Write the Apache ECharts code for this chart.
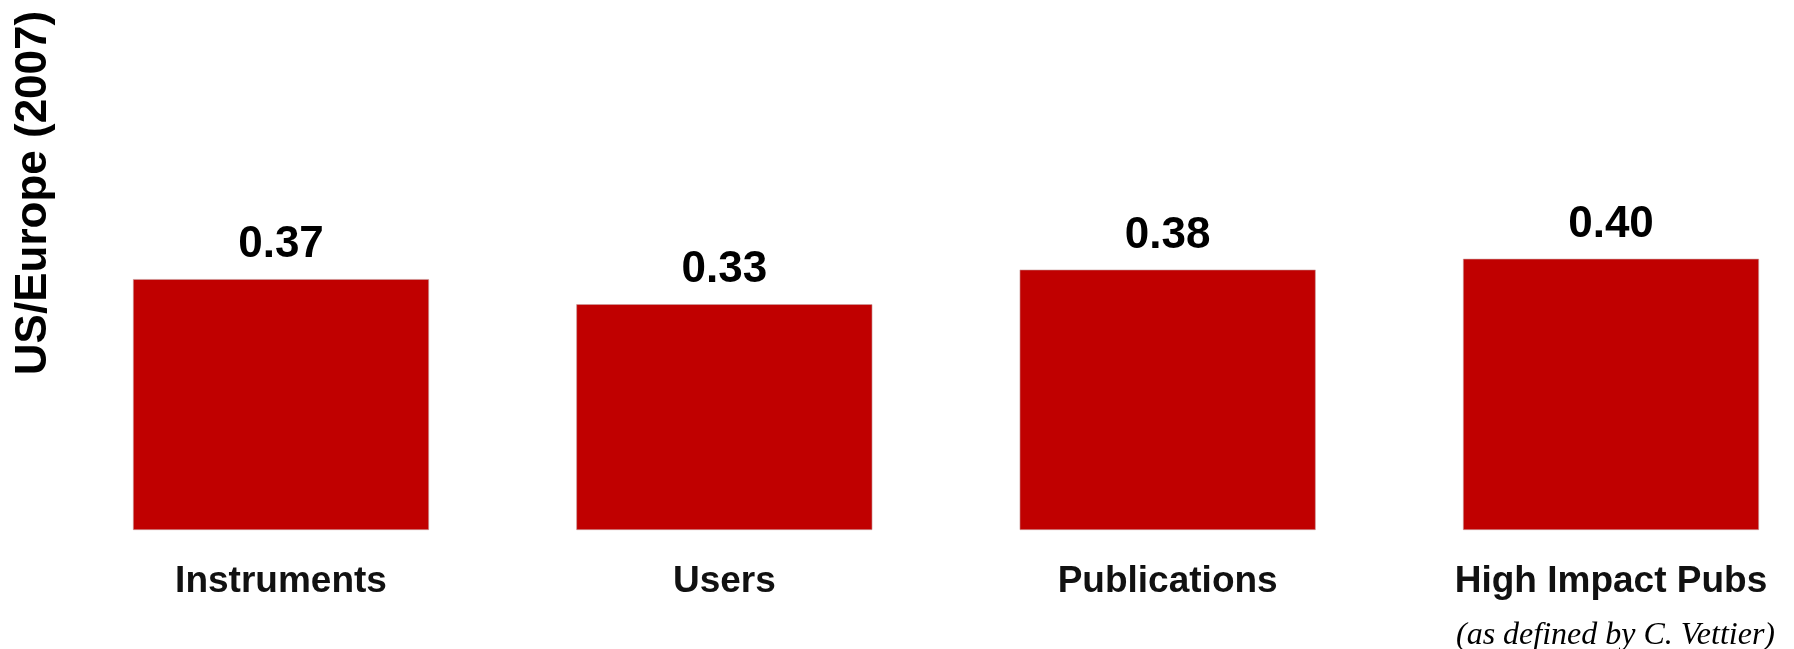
<!DOCTYPE html>
<html>
<head>
<meta charset="utf-8">
<script src="https://cdn.jsdelivr.net/npm/echarts@6/dist/echarts.min.js"></script>
<style>html,body{margin:0;padding:0;background:#fff;}#c{width:1794px;height:649px;}</style>
</head>
<body>
<div id="c"></div>
<script>
const categories = ['Instruments', 'Users', 'Publications', 'High Impact Pubs'];
const values = [0.37, 0.333, 0.384, 0.40];
const yTitle = 'US/Europe (2007)';
const footnote = '(as defined by C. Vettier)';

const chart = echarts.init(document.getElementById('c'), null, {renderer: 'canvas'});
chart.setOption({
  animation: false,
  backgroundColor: '#ffffff',
  grid: {left: 281, width: 1330, top: 55.4, height: 474.6},
  xAxis: {
    type: 'category',
    data: categories,
    boundaryGap: false,
    axisLine: {show: false},
    axisTick: {show: false},
    splitLine: {show: false},
    axisLabel: {
      margin: 33,
      fontFamily: 'Liberation Sans, Arial, sans-serif',
      fontWeight: 'bold',
      fontSize: 37,
      lineHeight: 37,
      color: '#111'
    }
  },
  yAxis: {
    type: 'value', min: 0, max: 0.7, interval: 0.1,
    show: false, splitLine: {show: false}
  },
  series: [{
    type: 'bar',
    data: values,
    barWidth: 296,
    clip: false,
    itemStyle: {color: '#C00000', borderColor: '#c9a0a0', borderWidth: 0.6},
    label: {
      show: true,
      position: 'top',
      distance: 12,
      formatter: p => p.value.toFixed(2),
      fontFamily: 'Liberation Sans, Arial, sans-serif',
      fontWeight: 'bold',
      fontSize: 44,
      lineHeight: 44,
      color: '#000'
    }
  }],
  graphic: [
    {
      type: 'text',
      x: 34, y: 193,
      rotation: Math.PI / 2,
      style: {
        text: yTitle,
        fontFamily: 'Liberation Sans, Arial, sans-serif',
        fontWeight: 'bold',
        fontSize: 44,
        fill: '#000',
        align: 'center',
        verticalAlign: 'middle'
      }
    },
    {
      type: 'text',
      x: 1775, y: 636,
      style: {
        text: footnote,
        fontFamily: 'Liberation Serif, Times New Roman, serif',
        fontStyle: 'italic',
        fontSize: 32,
        fill: '#000',
        align: 'right',
        verticalAlign: 'middle'
      }
    }
  ]
});
</script>
</body>
</html>
